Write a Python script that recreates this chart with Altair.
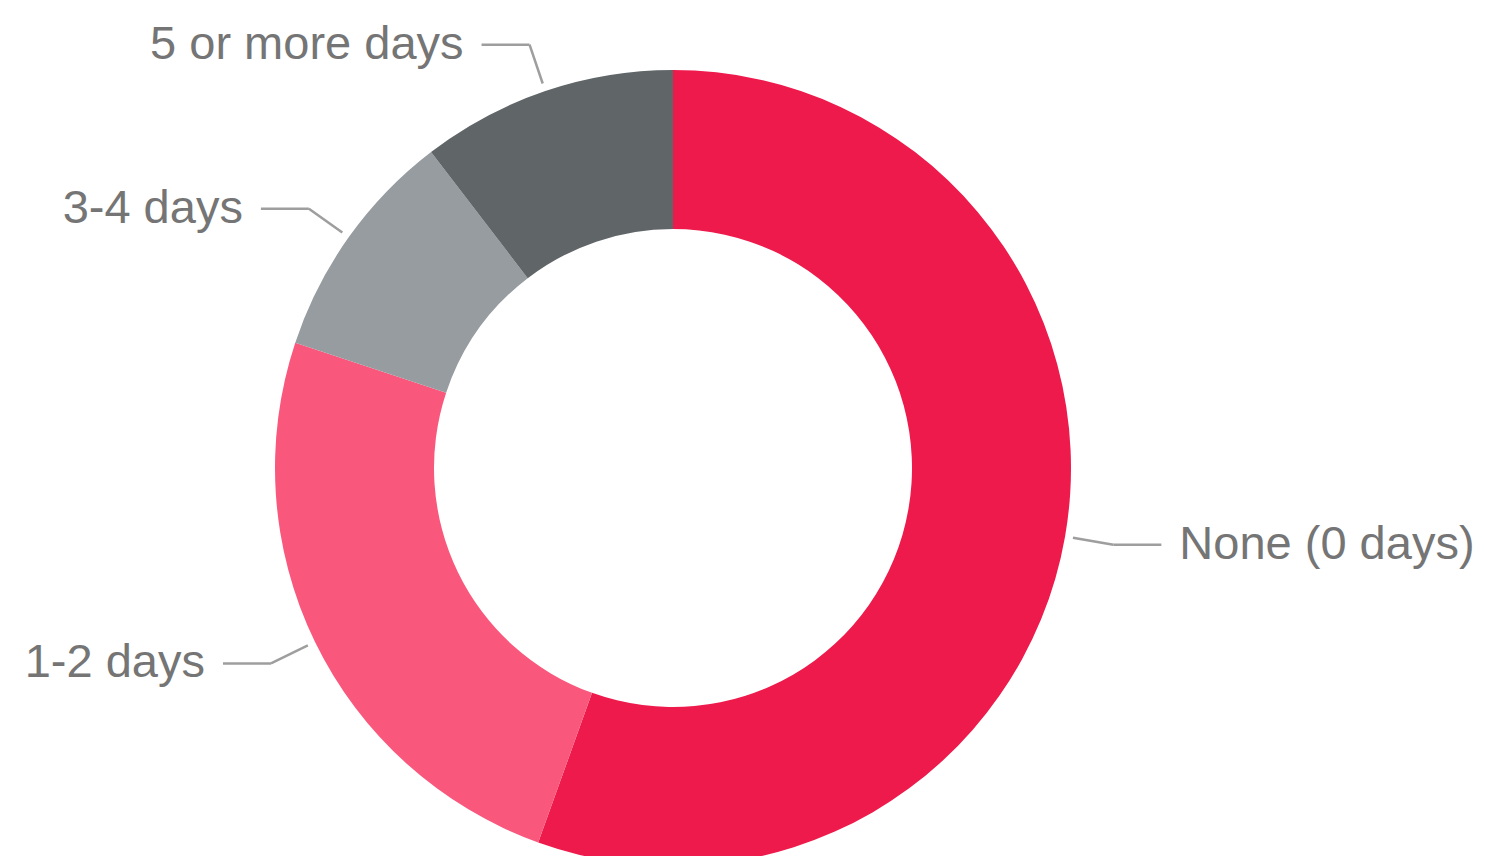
import math
import altair as alt
import pandas as pd

categories = ["None (0 days)", "1-2 days", "3-4 days", "5 or more days"]
values = [55.5, 24.6, 9.5, 10.4]
colors = ["#EE1A4B", "#F9587C", "#979CA1", "#606568"]

W, H = 1469, 848
CX, CY = 665, 460
R_OUT, R_IN = 398, 239
R_L1, R_L2, HSEG, GAP = 406, 447, 48, 18

df = pd.DataFrame({"cat": categories, "val": values, "ord": list(range(len(categories)))})
total = sum(values)
cum = 0.0
rows = []
for c, v in zip(categories, values):
    mid = (cum + v / 2) / total * 2 * math.pi
    cum += v
    s, co = math.sin(mid), math.cos(mid)
    side = 1 if s >= 0 else -1
    x1, y1 = CX + R_L1 * s, CY - R_L1 * co
    x2, y2 = CX + R_L2 * s, CY - R_L2 * co
    x3 = x2 + side * HSEG
    xt = x3 + side * GAP
    rows.append(dict(cat=c, x1=x1, y1=y1, x2=x2, y2=y2, x3=x3, xt=xt,
                     align="left" if side > 0 else "right"))
lab = pd.DataFrame(rows)

xs = alt.Scale(domain=[0, W], range=[0, W])
ys = alt.Scale(domain=[0, H], range=[0, H])

arc = alt.Chart(df).mark_arc(outerRadius=R_OUT, innerRadius=R_IN, stroke=None).encode(
    theta=alt.Theta("val:Q", stack=True),
    order=alt.Order("ord:Q"),
    color=alt.Color("cat:N", scale=alt.Scale(domain=categories, range=colors), legend=None),
    x=alt.value(CX),
    y=alt.value(CY),
)

seg1 = alt.Chart(lab).mark_rule(color="#9E9E9E", strokeWidth=2.5).encode(
    x=alt.X("x1:Q", scale=xs, axis=None), y=alt.Y("y1:Q", scale=ys, axis=None),
    x2="x2:Q", y2="y2:Q",
)
seg2 = alt.Chart(lab).mark_rule(color="#9E9E9E", strokeWidth=2.5).encode(
    x=alt.X("x2:Q", scale=xs, axis=None), y=alt.Y("y2:Q", scale=ys, axis=None),
    x2="x3:Q", y2="y2:Q",
)
txt_r = alt.Chart(lab).transform_filter("datum.align == 'left'").mark_text(
    align="left", baseline="middle", font="Liberation Sans", fontSize=47, color="#757575"
).encode(x=alt.X("xt:Q", scale=xs, axis=None), y=alt.Y("y2:Q", scale=ys, axis=None), text="cat:N")
txt_l = alt.Chart(lab).transform_filter("datum.align == 'right'").mark_text(
    align="right", baseline="middle", font="Liberation Sans", fontSize=47, color="#757575"
).encode(x=alt.X("xt:Q", scale=xs, axis=None), y=alt.Y("y2:Q", scale=ys, axis=None), text="cat:N")

chart = alt.layer(arc, seg1, seg2, txt_r, txt_l).properties(
    width=W, height=H, autosize=alt.AutoSizeParams(type="none"), padding=0
).configure_view(stroke=None)

chart.save("out.html", embed_options={"renderer": "svg", "actions": False})
